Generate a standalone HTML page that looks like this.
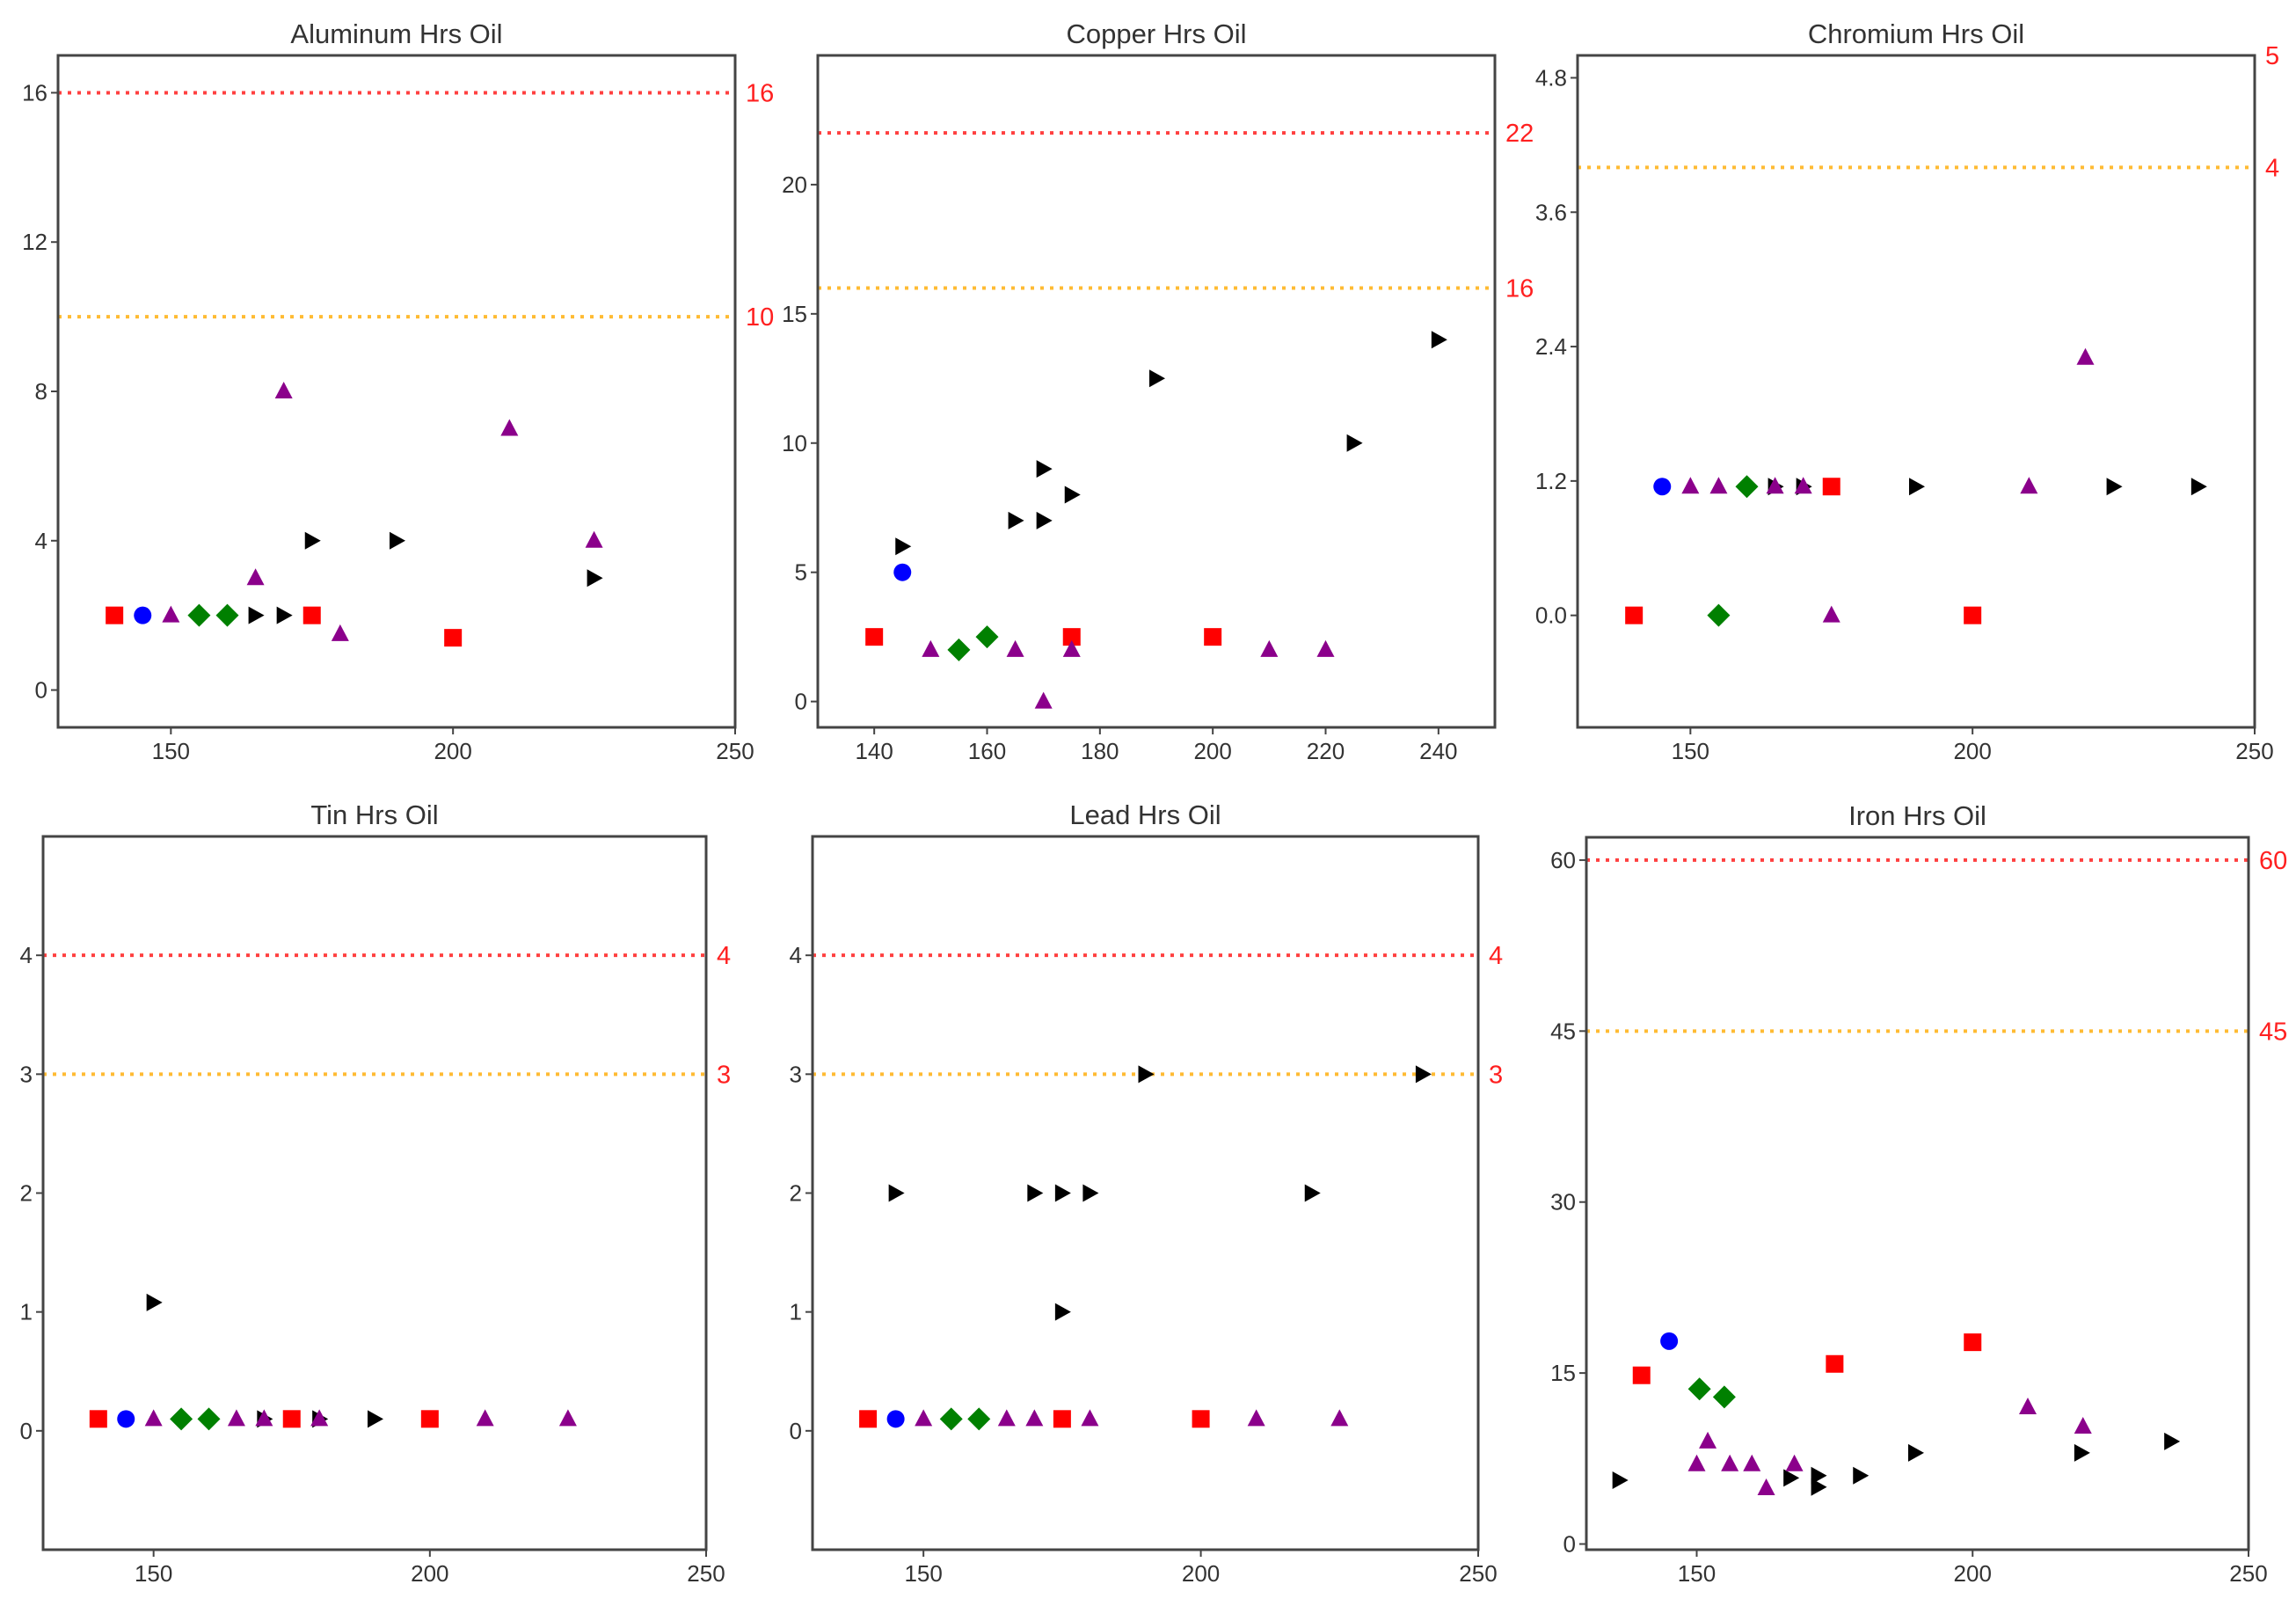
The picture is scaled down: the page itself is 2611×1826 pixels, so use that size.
<!DOCTYPE html>
<html><head><meta charset="utf-8">
<style>
html,body{margin:0;padding:0;background:#fff;}
svg{display:block;font-family:"Liberation Sans",sans-serif;}
</style></head>
<body>
<svg id="fig" width="2611" height="1826" viewBox="0 0 2611 1826"></svg>
<script>
// ---------- data (x = hours, y = ppm) ----------
// Aluminum
const alRedX=[140,175,200], alRedY=[2,2,1.4];
const alBlueX=[145], alBlueY=[2];
const alPurX=[150,165,170,180,210,225], alPurY=[2,3,8,1.5,7,4];
const alGreX=[155,160], alGreY=[2,2];
const alBlkX=[165,170,175,190,225], alBlkY=[2,2,4,4,3];
const alLimits=[16,10];
// Copper
const cuRedX=[140,175,200], cuRedY=[2.5,2.5,2.5];
const cuBlueX=[145], cuBlueY=[5];
const cuPurX=[150,165,170,175,210,220], cuPurY=[2,2,0,2,2,2];
const cuGreX=[155,160], cuGreY=[2,2.5];
const cuBlkX=[145,165,170,170,175,190,225,240], cuBlkY=[6,7,9,7,8,12.5,10,14];
const cuLimits=[22,16];
// Chromium
const crRedX=[140,175,200], crRedY=[0,1.15,0];
const crBlueX=[145], crBlueY=[1.15];
const crPurX=[150,155,165,170,175,210,220], crPurY=[1.15,1.15,1.15,1.15,0,1.15,2.3];
const crGreX=[160,155], crGreY=[1.15,0];
const crBlkX=[165,170,190,225,240], crBlkY=[1.15,1.15,1.15,1.15,1.15];
const crLimits=[5,4];
// Tin
const snRedX=[140,175,200], snRedY=[0.1,0.1,0.1];
const snBlueX=[145], snBlueY=[0.1];
const snPurX=[150,165,170,180,210,225], snPurY=[0.1,0.1,0.1,0.1,0.1,0.1];
const snGreX=[155,160], snGreY=[0.1,0.1];
const snBlkX=[150,170,180,190], snBlkY=[1.08,0.1,0.1,0.1];
const snLimits=[4,3];
// Lead
const pbRedX=[140,175,200], pbRedY=[0.1,0.1,0.1];
const pbBlueX=[145], pbBlueY=[0.1];
const pbPurX=[150,165,170,180,210,225], pbPurY=[0.1,0.1,0.1,0.1,0.1,0.1];
const pbGreX=[155,160], pbGreY=[0.1,0.1];
const pbBlkX=[145,170,175,180,175,190,220,240], pbBlkY=[2,2,2,2,1,3,2,3];
const pbLimits=[4,3];
// Iron
const feRedX=[140,175,200], feRedY=[14.8,15.8,17.7];
const feBlueX=[145], feBlueY=[17.8];
const fePurX=[150,152,156,160,162.6,167.7,210,220], fePurY=[7,9,7,7,4.9,7,12,10.3];
const feGreX=[150.5,155], feGreY=[13.6,12.9];
const feBlkX=[136,167,172,172,179.6,189.6,219.7,236], feBlkY=[5.6,5.8,6,5,6,8,8,9];
const feLimits=[60,45];

// tick labels
const xTicksA=[150,200,250];
const xTicksCu=[140,160,180,200,220,240];
const yTicksAl=[0,4,8,12,16];
const yTicksCu=[0,5,10,15,20];
const yTicksCr=[0,1.2,2.4,3.6,4.8];
const yTicksSn=[0,1,2,3,4];
const yTicksFe=[0,15,30,45,60];

const NS="http://www.w3.org/2000/svg";
const fig=document.getElementById('fig');
function mk(tag,attrs,parent){const e=document.createElementNS(NS,tag);for(const k in attrs)e.setAttribute(k,attrs[k]);(parent||fig).appendChild(e);return e;}

const panels=[
 {name:'aluminum',title:'Aluminum Hrs Oil',L:66,R:836,T:63,B:827,x0:130,x1:250,y0:-1,y1:17,xt:xTicksA,yt:yTicksAl,yfmt:v=>String(v),lim:alLimits,
  s:[[alRedX,alRedY],[alBlueX,alBlueY],[alPurX,alPurY],[alGreX,alGreY],[alBlkX,alBlkY]]},
 {name:'copper',title:'Copper Hrs Oil',L:930,R:1700,T:63,B:827,x0:130,x1:250,y0:-1,y1:25,xt:xTicksCu,yt:yTicksCu,yfmt:v=>String(v),lim:cuLimits,
  s:[[cuRedX,cuRedY],[cuBlueX,cuBlueY],[cuPurX,cuPurY],[cuGreX,cuGreY],[cuBlkX,cuBlkY]]},
 {name:'chromium',title:'Chromium Hrs Oil',L:1794,R:2564,T:63,B:827,x0:130,x1:250,y0:-1,y1:5,xt:xTicksA,yt:yTicksCr,yfmt:v=>v.toFixed(1),lim:crLimits,
  s:[[crRedX,crRedY],[crBlueX,crBlueY],[crPurX,crPurY],[crGreX,crGreY],[crBlkX,crBlkY]]},
 {name:'tin',title:'Tin Hrs Oil',L:49,R:803,T:951,B:1762,x0:130,x1:250,y0:-1,y1:5,xt:xTicksA,yt:yTicksSn,yfmt:v=>String(v),lim:snLimits,
  s:[[snRedX,snRedY],[snBlueX,snBlueY],[snPurX,snPurY],[snGreX,snGreY],[snBlkX,snBlkY]]},
 {name:'lead',title:'Lead Hrs Oil',L:924,R:1681,T:951,B:1762,x0:130,x1:250,y0:-1,y1:5,xt:xTicksA,yt:yTicksSn,yfmt:v=>String(v),lim:pbLimits,
  s:[[pbRedX,pbRedY],[pbBlueX,pbBlueY],[pbPurX,pbPurY],[pbGreX,pbGreY],[pbBlkX,pbBlkY]]},
 {name:'iron',title:'Iron Hrs Oil',L:1804,R:2557,T:952,B:1762,x0:130,x1:250,y0:-0.5,y1:62,xt:xTicksA,yt:yTicksFe,yfmt:v=>String(v),lim:feLimits,
  s:[[feRedX,feRedY],[feBlueX,feBlueY],[fePurX,fePurY],[feGreX,feGreY],[feBlkX,feBlkY]]}
];

const seriesNames=['red-square','blue-circle','purple-triangle','green-diamond','black-right-triangle'];
const drawOrder=[4,0,1,2,3];

panels.forEach(p=>{
  const g=mk('g',{});
  
  
  const sx=v=>p.L+(v-p.x0)/(p.x1-p.x0)*(p.R-p.L);
  const sy=v=>p.B-(v-p.y0)/(p.y1-p.y0)*(p.B-p.T);
  const t=mk('text',{x:(p.L+p.R)/2,y:p.T-14,'text-anchor':'middle','font-size':31,fill:'#333'},g);
  t.textContent=p.title;
  
  
  p.lim.forEach((lv,i)=>{
    const col=i===0?'#ff4040':'#ffbb33';
    const yy=sy(lv);
    if(lv<p.y1){
      const ln=mk('line',{x1:p.L,x2:p.R,y1:yy,y2:yy,stroke:col,'stroke-width':4,'stroke-dasharray':'4 7'},g);
      
      
    }
    const lt=mk('text',{x:p.R+12,y:yy+10,'font-size':29,fill:'#ff2020'},g);
    lt.textContent=String(lv);
    
    
  });
  p.xt.forEach(v=>{
    const x=sx(v);
    mk('line',{x1:x,x2:x,y1:p.B,y2:p.B+8,stroke:'#444','stroke-width':2},g);
    const tx=mk('text',{x:x,y:p.B+36,'text-anchor':'middle','font-size':26,fill:'#333'},g);
    tx.textContent=String(v);
    
    
  });
  p.yt.forEach(v=>{
    const y=sy(v);
    mk('line',{x1:p.L-8,x2:p.L,y1:y,y2:y,stroke:'#444','stroke-width':2},g);
    const ty=mk('text',{x:p.L-12,y:y+9,'text-anchor':'end','font-size':26,fill:'#333'},g);
    ty.textContent=p.yfmt(v);
    
    
  });
  drawOrder.forEach(si=>{
    const [xs,ys]=p.s[si];
    xs.forEach((xv,k)=>{
      const cx=sx(xv), cy=sy(ys[k]);
      let m;
      if(si===0) m=mk('rect',{x:cx-10,y:cy-10,width:20,height:20,fill:'#ff0000'},g);
      else if(si===1) m=mk('circle',{cx:cx,cy:cy,r:10,fill:'#0000ff'},g);
      else if(si===2) m=mk('polygon',{points:`${cx},${cy-11} ${cx-10},${cy+8} ${cx+10},${cy+8}`,fill:'#8b008b'},g);
      else if(si===3) m=mk('polygon',{points:`${cx},${cy-13} ${cx+13},${cy} ${cx},${cy+13} ${cx-13},${cy}`,fill:'#008000'},g);
      else m=mk('polygon',{points:`${cx-8},${cy-10} ${cx+10},${cy} ${cx-8},${cy+10}`,fill:'#000'},g);
      
      
    });
  });
  const fr=mk('rect',{x:p.L,y:p.T,width:p.R-p.L,height:p.B-p.T,fill:'none',stroke:'#444','stroke-width':3},g);
  
  
});
</script>
</body></html>
